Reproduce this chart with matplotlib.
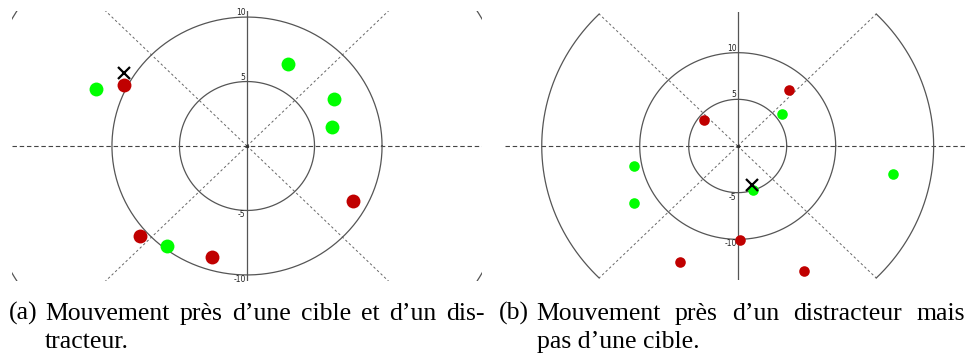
import numpy as np
import matplotlib
matplotlib.use("Agg")
import matplotlib.pyplot as plt

# ---- data ----
radii = [5, 10]
outer_radius = 20
tick_values = [10, 5, -5, -10]

left_green_x = [-11.19, 3.06, 6.47, 6.30, -5.93]
left_green_y = [4.40, 6.36, 3.67, 1.45, -7.75]
left_red_x = [-9.09, 7.83, -7.93, -2.62]
left_red_y = [4.73, -4.24, -6.98, -8.60]
left_cross = (-9.13, 5.68)

right_green_x = [4.52, -10.58, -10.58, 15.88, 1.60]
right_green_y = [3.43, -2.18, -6.14, -3.0, -4.72]
right_red_x = [5.27, -3.44, 0.24, -5.85, 6.80]
right_red_y = [6.04, 2.79, -10.11, -12.4, -13.4]
right_cross = (1.46, -4.21)

caption_a_label = "(a)"
caption_a_words = ["Mouvement", "près", "d’une", "cible", "et", "d’un", "dis-"]
caption_a_line2 = "tracteur."
caption_b_label = "(b)"
caption_b_words = ["Mouvement", "près", "d’un", "distracteur", "mais"]
caption_b_line2 = "pas d’une cible."

W, H = 967, 356
fig = plt.figure(figsize=(W / 100, H / 100), dpi=100)

GREEN = "#00ff00"
RED = "#c00000"
GRAY = "#555555"


def px_axes(x0, x1, y0, y1):
    return fig.add_axes([x0 / W, 1 - y1 / H, (x1 - x0) / W, (y1 - y0) / H])


def draw_panel(ax, xlim, ylim, gx, gy, rx, ry, cross, msize, tickfs):
    ax.set_xlim(-xlim, xlim)
    ax.set_ylim(-ylim, ylim)
    ax.axis("off")
    t = np.linspace(0, 2 * np.pi, 400)
    for r in radii:
        ax.plot(r * np.cos(t), r * np.sin(t), color=GRAY, lw=0.9, zorder=2)
    for a0, a1 in [(-45, 45), (135, 225)]:
        ta = np.radians(np.linspace(a0, a1, 200))
        ax.plot(outer_radius * np.cos(ta), outer_radius * np.sin(ta),
                color=GRAY, lw=0.9, zorder=2)
    for ang in [45, 135, 225, 315]:
        a = np.radians(ang)
        ax.plot([0, outer_radius * np.cos(a)], [0, outer_radius * np.sin(a)],
                color="#666666", lw=0.7, ls=(0, (2.5, 2.5)), zorder=1)
    ax.axhline(0, color="#444444", lw=0.8, ls=(0, (4, 2.5)), zorder=1)
    ax.axvline(0, color=GRAY, lw=0.9, zorder=2)
    ax.plot([0], [0], "o", color="#333333", ms=1.5, zorder=3)
    for v in tick_values:
        ax.text(-0.1, v, str(v), fontsize=tickfs, ha="right",
                va="bottom" if v > 0 else "top", color="#222222", zorder=3)
    ax.scatter(gx, gy, s=msize, color=GREEN, zorder=4, linewidths=0)
    ax.scatter(rx, ry, s=msize, color=RED, zorder=4, linewidths=0)
    ax.plot([cross[0]], [cross[1]], marker="x", color="black", ms=9, mew=1.6,
            zorder=5)


axL = px_axes(12, 482, 11, 281)
draw_panel(axL, 17.4, 10.47, left_green_x, left_green_y, left_red_x, left_red_y,
           left_cross, 100, 5.5)

axR = px_axes(505, 970.4, 11.7, 280.3)
draw_panel(axR, 23.75, 14.39, right_green_x, right_green_y, right_red_x, right_red_y,
           right_cross, 58, 5.5)

serif = ["Liberation Serif", "DejaVu Serif"]
fs = 18.5
base1 = 1 - 320 / H
base2 = 1 - 348 / H
renderer = fig.canvas.get_renderer()


def justified(words, x_start, x_end, y):
    arts = [fig.text(0, y, w, fontsize=fs, family=serif, ha="left", va="baseline")
            for w in words]
    widths = [a.get_window_extent(renderer).width for a in arts]
    gap = (x_end - x_start - sum(widths)) / (len(words) - 1)
    x = x_start
    for a, wd in zip(arts, widths):
        a.set_x(x / W)
        x += wd + gap


fig.text(9 / W, base1, caption_a_label, fontsize=fs, family=serif,
         ha="left", va="baseline")
justified(caption_a_words, 45, 485, base1)
fig.text(45 / W, base2, caption_a_line2, fontsize=fs, family=serif,
         ha="left", va="baseline")

fig.text(499 / W, base1, caption_b_label, fontsize=fs, family=serif,
         ha="left", va="baseline")
justified(caption_b_words, 536, 965, base1)
fig.text(537 / W, base2, caption_b_line2, fontsize=fs, family=serif,
         ha="left", va="baseline")

fig.savefig("out.png", dpi=100)
